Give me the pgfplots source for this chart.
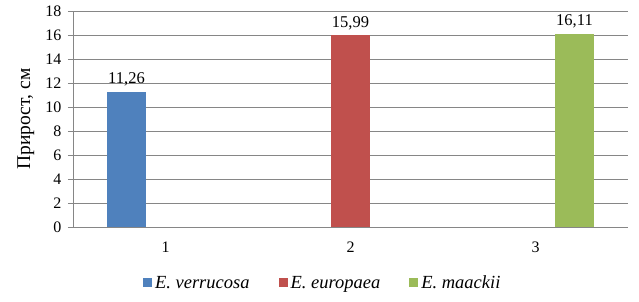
\documentclass[border=0pt]{standalone}
\usepackage{fontspec}
\setmainfont{Liberation Serif}
\usepackage{pgfplots}
\pgfplotsset{compat=1.18}
\definecolor{cblue}{HTML}{4F81BD}
\definecolor{cred}{HTML}{C0504D}
\definecolor{cgreen}{HTML}{9BBB59}
\definecolor{cgrid}{HTML}{868686}
\begin{document}
\begin{tikzpicture}
\useasboundingbox (-73pt,-75pt) rectangle (566pt,227pt);
\begin{axis}[
  at={(0pt,0pt)}, anchor=south west,
  scale only axis, width=555pt, height=216pt,
  ybar=0pt, bar width=39pt,
  xmin=0.5, xmax=3.5, ymin=0, ymax=18,
  ytick={0,2,...,18},
  xtick={1,2,3},
  major x tick style={draw=none},
  extra x ticks={0.5,1.5,2.5,3.5},
  extra x tick labels={},
  extra x tick style={major tick length=5pt, tick align=outside, major tick style={draw=cgrid}, grid=none},
  ymajorgrids, grid style={cgrid, line width=0.9pt},
  axis x line=bottom, axis y line=left,
  axis line style={-, cgrid, line width=0.9pt},
  y tick style={cgrid, line width=0.9pt},
  tick align=outside, major tick length=5pt,
  ylabel={Прирост, см},
  ylabel style={font=\fontsize{19.5}{22}\selectfont, at={(axis description cs:-0.085,0.5)}, anchor=center},
  tick label style={font=\fontsize{16}{18}\selectfont},
  yticklabel style={xshift=-3pt},
  xticklabel style={yshift=-6pt},
  /pgf/number format/assume math mode=true,
  nodes near coords,
  every node near coord/.append style={font=\fontsize{16.5}{18}\selectfont, yshift=2pt, /pgf/number format/.cd, use comma, fixed, fixed zerofill, precision=2, assume math mode=true},
  legend columns=3,
  legend style={draw=none, font=\fontsize{18.5}{20}\selectfont\itshape, at={(axis description cs:0.45,-0.259)}, anchor=center, inner sep=0pt, /tikz/every odd column/.append style={column sep=1pt}, /tikz/every even column/.append style={column sep=27pt}},
  legend image code/.code={\fill[#1] (0pt,-4.5pt) rectangle (9pt,4.5pt);},
  clip=false,
]
\addplot[fill=cblue, draw=none] coordinates {(1,11.26)};
\addplot[fill=cred, draw=none] coordinates {(2,15.99)};
\addplot[fill=cgreen, draw=none] coordinates {(3,16.11)};
\legend{E. verrucosa, E. europaea, E. maackii}
\end{axis}
\end{tikzpicture}
\end{document}
